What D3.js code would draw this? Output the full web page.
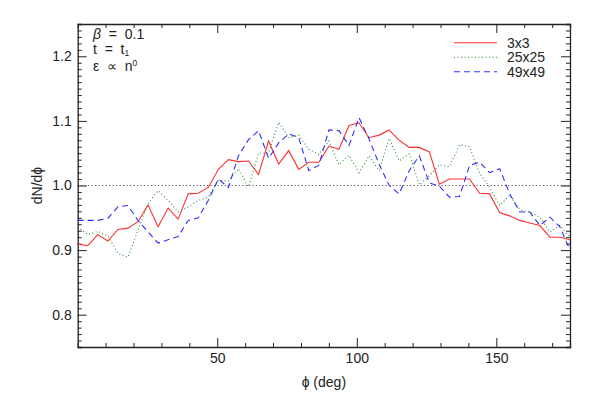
<!DOCTYPE html>
<html lang="en">
<head>
<meta charset="UTF-8">
<title>dN/dphi</title>
<style>
html, body { margin: 0; padding: 0; background: #fff; }
svg { display: block; font-family: 'Liberation Sans', Arial, sans-serif; }
.axis path { stroke: #222; stroke-width: 1.3; }
.axis line { stroke: #222; stroke-width: 1; }
.axis text { font-size: 14px; fill: #222; }
.lbl { font-size: 14px; fill: #222; white-space: pre; }
</style>
<script src="https://cdnjs.cloudflare.com/ajax/libs/d3/7.8.5/d3.min.js"></script>
</head>
<body>
<svg width="592" height="396"></svg>
<script>
// bin centres (deg)
const phi = [0, 3.6, 7.2, 10.8, 14.4, 18, 21.6, 25.2, 28.8, 32.4,
  36, 39.6, 43.2, 46.8, 50.4, 54, 57.6, 61.2, 64.8, 68.4,
  72, 75.6, 79.2, 82.8, 86.4, 90, 93.6, 97.2, 100.8, 104.4,
  108, 111.6, 115.2, 118.8, 122.4, 126, 129.6, 133.2, 136.8, 140.4,
  144, 147.6, 151.2, 154.8, 158.4, 162, 165.6, 169.2, 172.8, 176.4];

const res3 = [0.909, 0.907, 0.924, 0.914, 0.932, 0.934, 0.944, 0.970, 0.936, 0.965,
  0.948, 0.987, 0.988, 0.997, 1.025, 1.040, 1.037, 1.038, 1.017, 1.069,
  1.033, 1.054, 1.025, 1.036, 1.036, 1.061, 1.056, 1.093, 1.097, 1.074,
  1.078, 1.086, 1.070, 1.059, 1.059, 1.052, 1.002, 1.010, 1.010, 1.010,
  0.988, 0.987, 0.958, 0.953, 0.946, 0.942, 0.938, 0.920, 0.920, 0.916];

const res25 = [0.936, 0.924, 0.929, 0.922, 0.895, 0.889, 0.931, 0.972, 0.992, 0.977,
  0.959, 0.967, 0.977, 0.982, 1.008, 1.007, 1.026, 0.998, 1.050, 1.050,
  1.098, 1.074, 1.078, 1.056, 1.048, 1.069, 1.032, 1.047, 1.020, 1.046,
  1.023, 1.073, 1.038, 1.049, 1.001, 1.015, 1.032, 1.029, 1.063, 1.060,
  1.019, 0.997, 0.969, 0.985, 0.962, 0.959, 0.951, 0.928, 0.938, 0.920];

const res49 = [0.946, 0.946, 0.946, 0.949, 0.967, 0.969, 0.946, 0.928, 0.911, 0.916,
  0.921, 0.946, 0.950, 0.977, 1.010, 0.997, 1.046, 1.071, 1.085, 1.042,
  1.066, 1.080, 1.074, 1.023, 1.031, 1.086, 1.085, 1.062, 1.105, 1.072,
  1.033, 1.000, 0.987, 1.023, 1.046, 1.004, 0.999, 0.982, 0.983, 1.031,
  1.036, 1.020, 1.026, 0.987, 0.959, 0.959, 0.938, 0.951, 0.936, 0.900];

const series = [
  {name: '3x3', values: res3, color: '#ff3030', dash: null},
  {name: '25x25', values: res25, color: '#2e8b2e', dash: '1,2.5'},
  {name: '49x49', values: res49, color: '#2f2fff', dash: '6,4'}
];

const xMajor = [50, 100, 150];
const yMajor = [0.8, 0.9, 1.0, 1.1, 1.2];

const svg = d3.select('svg');
const m = {left: 77.7, right: 570, top: 24, bottom: 347};

const x = d3.scaleLinear().domain([0, 176.4]).range([m.left, m.right]);
const y = d3.scaleLinear().domain([0.75, 1.25]).range([m.bottom, m.top]);

const xMinor = d3.range(10, 176, 10).filter(v => v % 50 !== 0);
const yMinor = d3.range(76, 125).map(v => v / 100).filter(v => Math.round(v * 100) % 10 !== 0);

function addAxis(axisFn, scale, tx, ty, major, minor, majSize, labels) {
  const g = svg.append('g').attr('class', 'axis').attr('transform', `translate(${tx},${ty})`);
  g.call(axisFn(scale).tickValues(minor).tickSize(-4).tickFormat(''));
  g.append('g').call(axisFn(scale).tickValues(major).tickSize(-majSize)
    .tickPadding(6)
    .tickFormat(labels ? (d => d3.format('.1f')(d).replace(/\.0$/, labels === 'x' ? '' : '.0')) : ''))
    .select('.domain').remove();
  return g;
}

addAxis(d3.axisBottom, x, 0, m.bottom, xMajor, xMinor, 9, 'x');
addAxis(d3.axisTop, x, 0, m.top, xMajor, xMinor, 9, null);
addAxis(d3.axisLeft, y, m.left, 0, yMajor, yMinor, 9, 'y');
addAxis(d3.axisRight, y, m.right, 0, yMajor, yMinor, 9, null);

svg.selectAll('.axis text').attr('font-size', 14).style('font-size', '14px');

// reference line at 1
svg.append('line')
  .attr('x1', x(0)).attr('x2', x(176.4))
  .attr('y1', y(1)).attr('y2', y(1))
  .attr('stroke', '#333').attr('stroke-width', 1)
  .attr('stroke-dasharray', '1,2.5');

const line = d3.line().x((d, i) => x(phi[i])).y(d => y(d));

svg.append('g').selectAll('path').data(series).join('path')
  .attr('d', d => line(d.values))
  .attr('fill', 'none')
  .attr('stroke', d => d.color)
  .attr('stroke-width', 1.1)
  .attr('stroke-dasharray', d => d.dash);

// legend
const leg = svg.append('g');
series.forEach((s, i) => {
  const yy = 42.7 + i * 14.5;
  leg.append('line').attr('x1', 454).attr('x2', 497).attr('y1', yy).attr('y2', yy)
    .attr('stroke', s.color).attr('stroke-width', 1.1).attr('stroke-dasharray', s.dash);
  leg.append('text').attr('class', 'lbl').attr('x', 507).attr('y', yy + 5).text(s.name);
});

// annotation
const ann = svg.append('g');
ann.append('text').attr('class', 'lbl').attr('x', 93).attr('y', 39)
  .html('<tspan font-style="italic">β</tspan>  =  0.1');
const t2 = ann.append('text').attr('class', 'lbl').attr('x', 93).attr('y', 54);
t2.append('tspan').text('t  =  t');
t2.append('tspan').attr('dy', 2).attr('font-size', 8.5).text('1');
const t3 = ann.append('text').attr('class', 'lbl').attr('x', 93).attr('y', 71);
t3.append('tspan').text('ε  ∝  n');
t3.append('tspan').attr('dy', -5).attr('font-size', 8.5).text('0');

// axis titles
svg.append('text').attr('class', 'lbl').attr('text-anchor', 'middle')
  .attr('x', x(88.2)).attr('y', 387).text('ϕ (deg)');
svg.append('text').attr('class', 'lbl').attr('text-anchor', 'middle')
  .attr('transform', `translate(42,${y(1)}) rotate(-90)`).text('dN/dϕ');
</script>
</body>
</html>
